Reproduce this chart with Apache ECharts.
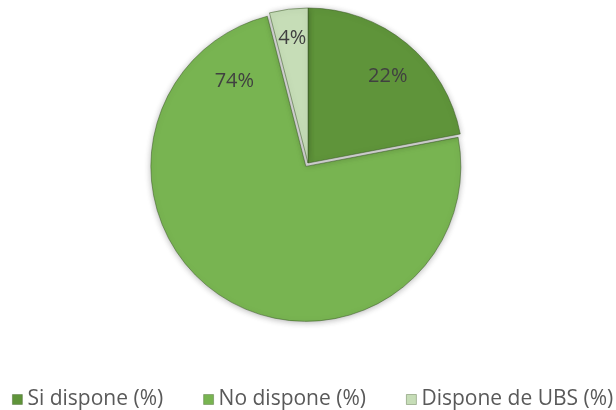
<!DOCTYPE html>
<html>
<head>
<meta charset="utf-8">
<script src="https://cdn.jsdelivr.net/npm/echarts@6/dist/echarts.min.js"></script>
<style>
html,body{margin:0;padding:0;background:#fff;}
#c{width:616px;height:410px;}
</style>
</head>
<body>
<div id="c"></div>
<script>
var categories = ['Si dispone (%)', 'No dispone (%)', 'Dispone de UBS (%)'];
var values = [22, 74, 4];
var colors = ['#5f943a', '#78b451', '#c6ddb7'];

var explodedIndex = 1;      // slice pulled out of the pie
var chart = echarts.init(document.getElementById('c'), null, {renderer: 'canvas'});
var cx = 308, cy = 163, R = 155, explode = 4;
var total = values.reduce(function(a, b){return a + b;}, 0);

function midAngle(i) {
  var start = 0;
  for (var k = 0; k < i; k++) start += values[k] / total * 360;
  return start + values[i] / total * 180;
}
var em = midAngle(explodedIndex) * Math.PI / 180;
var ex = cx + explode * Math.sin(em), ey = cy - explode * Math.cos(em);

function labelSpot(i) {
  var mid = midAngle(i), frac = 0.77;
  if (i === 0) { mid = 42.6; frac = 0.76; }
  if (i === 1) { mid = 318; frac = 0.71; }
  if (i === 2) { frac = 0.81; }
  var a = mid * Math.PI / 180;
  return {x: cx + R * frac * Math.sin(a), y: cy - R * frac * Math.cos(a)};
}

function seriesFor(showIdx, center) {
  return {
    type: 'pie',
    center: center,
    radius: R,
    startAngle: 90,
    clockwise: true,
    silent: true,
    legendHoverLink: false,
    itemStyle: {
      borderColor: 'rgba(55,85,35,0.5)',
      borderWidth: 1,
      shadowBlur: 6,
      shadowColor: 'rgba(0,0,0,0.28)',
      shadowOffsetY: 1
    },
    label: {
      show: true,
      position: 'inside',
      fontFamily: 'Open Sans',
      fontSize: 20,
      color: '#404040',
      formatter: function(p){ return Math.round(p.percent) + '%'; }
    },
    labelLine: {show: false},
    labelLayout: function(p) {
      var s = labelSpot(p.dataIndex);
      return {x: s.x, y: s.y, align: 'center', verticalAlign: 'middle'};
    },
    data: categories.map(function(n, i){
      var vis = showIdx.indexOf(i) >= 0;
      return {
        name: n, value: values[i],
        itemStyle: vis ? {color: colors[i]} : {color: 'rgba(0,0,0,0)', borderColor: 'rgba(0,0,0,0)', shadowColor: 'rgba(0,0,0,0)'},
        label: {show: vis}
      };
    })
  };
}

chart.setOption({
  animation: false,
  backgroundColor: '#ffffff',
  legend: {
    data: categories.map(function(n, i){ return {name: n, itemStyle: {color: colors[i], borderColor: 'rgba(55,85,35,0.45)', borderWidth: 0.8}}; }),
    left: 12,
    top: 389,
    width: 610,
    padding: 0,
    itemWidth: 10,
    itemHeight: 10,
    itemGap: 40,
    icon: 'rect',
    selectedMode: false,
    textStyle: {fontFamily: 'Open Sans', fontSize: 21, color: '#595959'}
  },
  series: [
    seriesFor([explodedIndex], [ex, ey]),
    seriesFor([0, 2], [cx, cy])
  ]
});
</script>
</body>
</html>
